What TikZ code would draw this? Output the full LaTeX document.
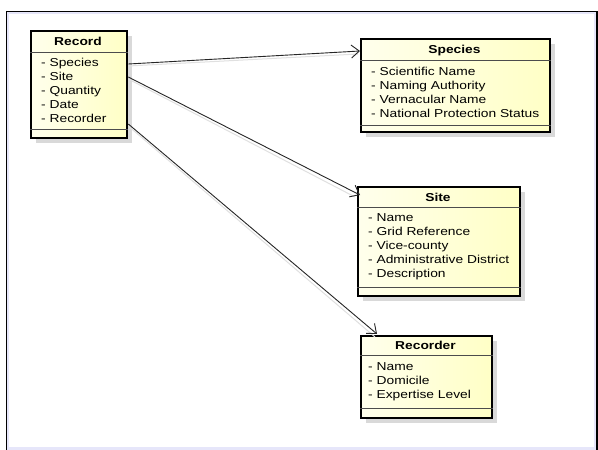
\documentclass[tikz,border=0pt]{standalone}
\usepackage{fontspec}
\setmainfont{Liberation Sans}[FakeStretch=1.2]
\usetikzlibrary{arrows.meta,shadows,calc}
\definecolor{lav}{RGB}{230,230,250}
\definecolor{creamL}{RGB}{255,255,236}
\definecolor{creamR}{RGB}{255,255,198}
\tikzset{
  umlbox/.style={rectangle, draw=black, line width=2.3pt, left color=creamL, right color=creamR,
    drop shadow={shadow xshift=5pt, shadow yshift=-5pt, fill=black!15, opacity=1},
    anchor=north west, inner sep=0pt},
  sepline/.style={draw=black!70, line width=0.8pt},
  ctitle/.style={font=\fontsize{11.5}{14}\selectfont\bfseries, anchor=base, inner sep=0pt},
  cattrs/.style={font=\fontsize{11.5}{14}\selectfont, anchor=base west, inner sep=0pt},
  assoc/.style={draw=black!85, line width=0.9pt, -{Straight Barb[length=8pt,width=13pt,line width=0.9pt]}},
  assocsh/.style={draw=black!12, line width=1pt},
}
\begin{document}
\begin{tikzpicture}[x=1pt,y=-1pt]
\useasboundingbox (0,0) rectangle (598,450);
% frame
\fill[lav] (6,11) rectangle (598,450);
\fill[white] (9,14) rectangle (594,447);
\draw[black, line width=1.2pt] (6.6,450) -- (6.6,11.6) -- (597,11.6) -- (597,450);

% Record
\node[umlbox, minimum width=96pt, minimum height=107pt] (rec) at (30,30) {};
\draw[sepline] ([yshift=-22pt]rec.north west) -- ([yshift=-22pt]rec.north east);
\draw[sepline] ([yshift=10pt]rec.south west) -- ([yshift=10pt]rec.south east);
\node[ctitle] (rect) at (78,45) {Record};
\node[cattrs] (reca) at (41,66) {\begin{tabular}[t]{@{}l@{}}- Species\\- Site\\- Quantity\\- Date\\- Recorder\end{tabular}};

% Species
\node[umlbox, minimum width=189pt, minimum height=93pt] (spc) at (360,38) {};
\draw[sepline] ([yshift=-22pt]spc.north west) -- ([yshift=-22pt]spc.north east);
\draw[sepline] ([yshift=8pt]spc.south west) -- ([yshift=8pt]spc.south east);
\node[ctitle] (spct) at (454.5,53) {Species};
\node[cattrs] (spca) at (371,75) {\begin{tabular}[t]{@{}l@{}}- Scientific Name\\- Naming Authority\\- Vernacular Name\\- National Protection Status\end{tabular}};

% Site
\node[umlbox, minimum width=162pt, minimum height=109pt] (sit) at (357,186) {};
\draw[sepline] ([yshift=-21pt]sit.north west) -- ([yshift=-21pt]sit.north east);
\draw[sepline] ([yshift=10pt]sit.south west) -- ([yshift=10pt]sit.south east);
\node[ctitle] (sitt) at (438,201) {Site};
\node[cattrs] (sita) at (368,221) {\begin{tabular}[t]{@{}l@{}}- Name\\- Grid Reference\\- Vice-county\\- Administrative District\\- Description\end{tabular}};

% Recorder
\node[umlbox, minimum width=131pt, minimum height=82pt] (rcd) at (360,335) {};
\draw[sepline] ([yshift=-20pt]rcd.north west) -- ([yshift=-20pt]rcd.north east);
\draw[sepline] ([yshift=11pt]rcd.south west) -- ([yshift=11pt]rcd.south east);
\node[ctitle] (rcdt) at (425.5,349) {Recorder};
\node[cattrs] (rcda) at (368,370) {\begin{tabular}[t]{@{}l@{}}- Name\\- Domicile\\- Expertise Level\end{tabular}};

% associations (shadows)
\draw[assocsh] ([yshift=-36pt]rec.north east) -- ([xshift=-2pt,yshift=-16pt]spc.north west);
\draw[assocsh] ([yshift=-49pt]rec.north east) -- ([xshift=-2pt,yshift=-11pt]sit.north west);
\draw[assocsh] ([yshift=-96pt]rec.north east) -- ([xshift=15pt,yshift=-2pt]rcd.north west);
% associations
\draw[assoc] ([yshift=-34pt]rec.north east) -- ([yshift=-13pt]spc.north west);
\draw[assoc] ([yshift=-47pt]rec.north east) -- ([xshift=3pt,yshift=-9pt]sit.north west);
\draw[assoc] ([yshift=-94pt]rec.north east) -- ([xshift=17pt,yshift=1pt]rcd.north west);
\end{tikzpicture}
\end{document}
